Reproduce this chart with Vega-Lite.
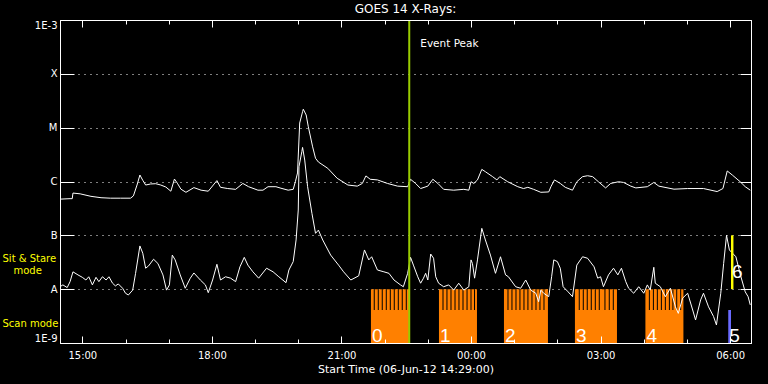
{
  "$schema": "https://vega.github.io/schema/vega-lite/v6.json",
  "width": 691,
  "height": 323,
  "autosize": {"type": "none"},
  "padding": {"left": 60, "top": 20, "right": 17, "bottom": 41},
  "background": "black",
  "config": {
    "view": {"stroke": "white", "strokeWidth": 1},
    "axis": {"domain": false, "grid": false, "labelFont": "DejaVu Sans", "labelFontSize": 10, "labelColor": "white", "tickColor": "white", "tickWidth": 1, "domainColor": "white", "domainWidth": 1}
  },
  "title": {"text": "GOES 14 X-Rays:", "color": "white", "font": "DejaVu Sans", "fontSize": 12, "fontWeight": "normal", "anchor": "middle", "frame": "group", "baseline": "alphabetic", "offset": -6},
  "resolve": {"axis": {"x": "independent", "y": "independent"}},
  "datasets": {
    "blocks": [
      {"t": "2012-06-06T21:41:00", "t2": "2012-06-06T22:34:00", "v": 1e-9, "v2": 1e-8},
      {"t": "2012-06-06T23:15:30", "t2": "2012-06-07T00:08:18", "v": 1e-9, "v2": 1e-8},
      {"t": "2012-06-07T00:45:48", "t2": "2012-06-07T01:46:54", "v": 1e-9, "v2": 1e-8},
      {"t": "2012-06-07T02:24:24", "t2": "2012-06-07T03:22:48", "v": 1e-9, "v2": 1e-8},
      {"t": "2012-06-07T04:02:18", "t2": "2012-06-07T04:55:06", "v": 1e-9, "v2": 1e-8}
    ],
    "stripes": [
      {"t": "2012-06-06T21:45:36", "v": 4.1e-9, "v2": 1e-8},
      {"t": "2012-06-06T21:51:12", "v": 4.1e-9, "v2": 1e-8},
      {"t": "2012-06-06T21:56:42", "v": 4.1e-9, "v2": 1e-8},
      {"t": "2012-06-06T22:02:18", "v": 4.1e-9, "v2": 1e-8},
      {"t": "2012-06-06T22:07:54", "v": 4.1e-9, "v2": 1e-8},
      {"t": "2012-06-06T22:13:24", "v": 4.1e-9, "v2": 1e-8},
      {"t": "2012-06-06T22:19:00", "v": 4.1e-9, "v2": 1e-8},
      {"t": "2012-06-06T22:24:30", "v": 4.1e-9, "v2": 1e-8},
      {"t": "2012-06-06T22:30:06", "v": 4.1e-9, "v2": 1e-8},
      {"t": "2012-06-06T23:21:06", "v": 4.1e-9, "v2": 1e-8},
      {"t": "2012-06-06T23:26:36", "v": 4.1e-9, "v2": 1e-8},
      {"t": "2012-06-06T23:32:12", "v": 4.1e-9, "v2": 1e-8},
      {"t": "2012-06-06T23:37:48", "v": 4.1e-9, "v2": 1e-8},
      {"t": "2012-06-06T23:43:18", "v": 4.1e-9, "v2": 1e-8},
      {"t": "2012-06-06T23:48:54", "v": 4.1e-9, "v2": 1e-8},
      {"t": "2012-06-06T23:54:30", "v": 4.1e-9, "v2": 1e-8},
      {"t": "2012-06-07T00:00:00", "v": 4.1e-9, "v2": 1e-8},
      {"t": "2012-06-07T00:04:54", "v": 4.1e-9, "v2": 1e-8},
      {"t": "2012-06-07T00:51:24", "v": 4.1e-9, "v2": 1e-8},
      {"t": "2012-06-07T00:56:54", "v": 4.1e-9, "v2": 1e-8},
      {"t": "2012-06-07T01:02:30", "v": 4.1e-9, "v2": 1e-8},
      {"t": "2012-06-07T01:08:00", "v": 4.1e-9, "v2": 1e-8},
      {"t": "2012-06-07T01:13:36", "v": 4.1e-9, "v2": 1e-8},
      {"t": "2012-06-07T01:19:06", "v": 4.1e-9, "v2": 1e-8},
      {"t": "2012-06-07T01:24:42", "v": 4.1e-9, "v2": 1e-8},
      {"t": "2012-06-07T01:30:18", "v": 4.1e-9, "v2": 1e-8},
      {"t": "2012-06-07T01:35:48", "v": 4.1e-9, "v2": 1e-8},
      {"t": "2012-06-07T01:41:24", "v": 4.1e-9, "v2": 1e-8},
      {"t": "2012-06-07T02:30:24", "v": 4.1e-9, "v2": 1e-8},
      {"t": "2012-06-07T02:36:00", "v": 4.1e-9, "v2": 1e-8},
      {"t": "2012-06-07T02:41:30", "v": 4.1e-9, "v2": 1e-8},
      {"t": "2012-06-07T02:47:06", "v": 4.1e-9, "v2": 1e-8},
      {"t": "2012-06-07T02:52:42", "v": 4.1e-9, "v2": 1e-8},
      {"t": "2012-06-07T02:58:12", "v": 4.1e-9, "v2": 1e-8},
      {"t": "2012-06-07T03:06:06", "v": 4.1e-9, "v2": 1e-8},
      {"t": "2012-06-07T03:12:06", "v": 4.1e-9, "v2": 1e-8},
      {"t": "2012-06-07T03:17:42", "v": 4.1e-9, "v2": 1e-8},
      {"t": "2012-06-07T04:07:48", "v": 4.1e-9, "v2": 1e-8},
      {"t": "2012-06-07T04:13:24", "v": 4.1e-9, "v2": 1e-8},
      {"t": "2012-06-07T04:18:54", "v": 4.1e-9, "v2": 1e-8},
      {"t": "2012-06-07T04:24:30", "v": 4.1e-9, "v2": 1e-8},
      {"t": "2012-06-07T04:30:00", "v": 4.1e-9, "v2": 1e-8},
      {"t": "2012-06-07T04:35:36", "v": 4.1e-9, "v2": 1e-8},
      {"t": "2012-06-07T04:40:30", "v": 4.1e-9, "v2": 1e-8},
      {"t": "2012-06-07T04:45:48", "v": 4.1e-9, "v2": 1e-8},
      {"t": "2012-06-07T04:51:18", "v": 4.1e-9, "v2": 1e-8}
    ],
    "blue": [
      {"t": "2012-06-07T05:57:24", "t2": "2012-06-07T06:01:12", "v": 1e-9, "v2": 4.1e-9}
    ],
    "yellow": [
      {"t": "2012-06-07T06:01:12", "t2": "2012-06-07T06:04:36", "v": 1e-8, "v2": 1e-7}
    ],
    "peak": [
      {"t": "2012-06-06T22:34:12", "v": 3.2e-4, "label": "Event Peak"}
    ],
    "digits": [
      {"t": "2012-06-06T21:41:00", "v": 1.05e-9, "label": "0"},
      {"t": "2012-06-06T23:15:30", "v": 1.05e-9, "label": "1"},
      {"t": "2012-06-07T00:45:48", "v": 1.05e-9, "label": "2"},
      {"t": "2012-06-07T02:24:24", "v": 1.05e-9, "label": "3"},
      {"t": "2012-06-07T04:02:18", "v": 1.05e-9, "label": "4"},
      {"t": "2012-06-07T05:57:24", "v": 1.05e-9, "label": "5"},
      {"t": "2012-06-07T06:01:12", "v": 1.6e-8, "label": "6"}
    ],
    "flux": [
      {"t": "2012-06-06T14:29", "ch": "long", "v": 4.7e-7},
      {"t": "2012-06-06T14:43", "ch": "long", "v": 4.8e-7},
      {"t": "2012-06-06T14:46", "ch": "long", "v": 4.8e-7},
      {"t": "2012-06-06T14:47", "ch": "long", "v": 6.1e-7},
      {"t": "2012-06-06T14:57", "ch": "long", "v": 5.9e-7},
      {"t": "2012-06-06T15:12", "ch": "long", "v": 5.3e-7},
      {"t": "2012-06-06T15:26", "ch": "long", "v": 5.0e-7},
      {"t": "2012-06-06T15:39", "ch": "long", "v": 4.9e-7},
      {"t": "2012-06-06T15:53", "ch": "long", "v": 4.9e-7},
      {"t": "2012-06-06T16:07", "ch": "long", "v": 4.9e-7},
      {"t": "2012-06-06T16:11", "ch": "long", "v": 5.4e-7},
      {"t": "2012-06-06T16:16", "ch": "long", "v": 8.6e-7},
      {"t": "2012-06-06T16:20", "ch": "long", "v": 1.32e-6},
      {"t": "2012-06-06T16:24", "ch": "long", "v": 1.05e-6},
      {"t": "2012-06-06T16:28", "ch": "long", "v": 8.6e-7},
      {"t": "2012-06-06T16:35", "ch": "long", "v": 9.0e-7},
      {"t": "2012-06-06T16:42", "ch": "long", "v": 9.1e-7},
      {"t": "2012-06-06T16:49", "ch": "long", "v": 8.6e-7},
      {"t": "2012-06-06T16:56", "ch": "long", "v": 7.9e-7},
      {"t": "2012-06-06T17:03", "ch": "long", "v": 6.6e-7},
      {"t": "2012-06-06T17:08", "ch": "long", "v": 1.11e-6},
      {"t": "2012-06-06T17:12", "ch": "long", "v": 9.3e-7},
      {"t": "2012-06-06T17:17", "ch": "long", "v": 7.2e-7},
      {"t": "2012-06-06T17:24", "ch": "long", "v": 6.3e-7},
      {"t": "2012-06-06T17:35", "ch": "long", "v": 7.7e-7},
      {"t": "2012-06-06T17:45", "ch": "long", "v": 6.9e-7},
      {"t": "2012-06-06T17:55", "ch": "long", "v": 6.6e-7},
      {"t": "2012-06-06T18:07", "ch": "long", "v": 1.04e-6},
      {"t": "2012-06-06T18:12", "ch": "long", "v": 7.8e-7},
      {"t": "2012-06-06T18:22", "ch": "long", "v": 7.4e-7},
      {"t": "2012-06-06T18:33", "ch": "long", "v": 7.15e-7},
      {"t": "2012-06-06T18:43", "ch": "long", "v": 9.2e-7},
      {"t": "2012-06-06T18:51", "ch": "long", "v": 8.0e-7},
      {"t": "2012-06-06T19:04", "ch": "long", "v": 6.9e-7},
      {"t": "2012-06-06T19:11", "ch": "long", "v": 6.9e-7},
      {"t": "2012-06-06T19:18", "ch": "long", "v": 8.0e-7},
      {"t": "2012-06-06T19:29", "ch": "long", "v": 8.0e-7},
      {"t": "2012-06-06T19:36", "ch": "long", "v": 7.5e-7},
      {"t": "2012-06-06T19:46", "ch": "long", "v": 6.9e-7},
      {"t": "2012-06-06T19:53", "ch": "long", "v": 7.15e-7},
      {"t": "2012-06-06T19:56", "ch": "long", "v": 9.9e-7},
      {"t": "2012-06-06T19:59", "ch": "long", "v": 1.44e-6},
      {"t": "2012-06-06T20:02", "ch": "long", "v": 1.22e-5},
      {"t": "2012-06-06T20:06", "ch": "long", "v": 1.98e-5},
      {"t": "2012-06-06T20:07", "ch": "long", "v": 2.2e-5},
      {"t": "2012-06-06T20:11", "ch": "long", "v": 1.72e-5},
      {"t": "2012-06-06T20:14", "ch": "long", "v": 1.04e-5},
      {"t": "2012-06-06T20:20", "ch": "long", "v": 4.4e-6},
      {"t": "2012-06-06T20:24", "ch": "long", "v": 2.7e-6},
      {"t": "2012-06-06T20:28", "ch": "long", "v": 2.3e-6},
      {"t": "2012-06-06T20:41", "ch": "long", "v": 1.76e-6},
      {"t": "2012-06-06T20:54", "ch": "long", "v": 1.15e-6},
      {"t": "2012-06-06T21:09", "ch": "long", "v": 8.6e-7},
      {"t": "2012-06-06T21:22", "ch": "long", "v": 8.2e-7},
      {"t": "2012-06-06T21:29", "ch": "long", "v": 9.2e-7},
      {"t": "2012-06-06T21:34", "ch": "long", "v": 1.27e-6},
      {"t": "2012-06-06T21:40", "ch": "long", "v": 1.1e-6},
      {"t": "2012-06-06T21:50", "ch": "long", "v": 1.07e-6},
      {"t": "2012-06-06T22:04", "ch": "long", "v": 9.2e-7},
      {"t": "2012-06-06T22:18", "ch": "long", "v": 8.2e-7},
      {"t": "2012-06-06T22:32", "ch": "long", "v": 8.0e-7},
      {"t": "2012-06-06T22:36", "ch": "long", "v": 1.1e-6},
      {"t": "2012-06-06T22:43", "ch": "long", "v": 9.2e-7},
      {"t": "2012-06-06T22:50", "ch": "long", "v": 7.4e-7},
      {"t": "2012-06-06T23:00", "ch": "long", "v": 8.2e-7},
      {"t": "2012-06-06T23:07", "ch": "long", "v": 1.1e-6},
      {"t": "2012-06-06T23:14", "ch": "long", "v": 9.2e-7},
      {"t": "2012-06-06T23:22", "ch": "long", "v": 7.15e-7},
      {"t": "2012-06-06T23:36", "ch": "long", "v": 6.9e-7},
      {"t": "2012-06-06T23:50", "ch": "long", "v": 7.15e-7},
      {"t": "2012-06-06T23:57", "ch": "long", "v": 6.9e-7},
      {"t": "2012-06-07T00:00", "ch": "long", "v": 9.9e-7},
      {"t": "2012-06-07T00:04", "ch": "long", "v": 9.2e-7},
      {"t": "2012-06-07T00:09", "ch": "long", "v": 1.07e-6},
      {"t": "2012-06-07T00:15", "ch": "long", "v": 1.68e-6},
      {"t": "2012-06-07T00:20", "ch": "long", "v": 1.52e-6},
      {"t": "2012-06-07T00:30", "ch": "long", "v": 1.23e-6},
      {"t": "2012-06-07T00:36", "ch": "long", "v": 1.07e-6},
      {"t": "2012-06-07T00:40", "ch": "long", "v": 1.23e-6},
      {"t": "2012-06-07T00:51", "ch": "long", "v": 9.9e-7},
      {"t": "2012-06-07T01:05", "ch": "long", "v": 8.0e-7},
      {"t": "2012-06-07T01:13", "ch": "long", "v": 7.4e-7},
      {"t": "2012-06-07T01:19", "ch": "long", "v": 7.8e-7},
      {"t": "2012-06-07T01:27", "ch": "long", "v": 7.15e-7},
      {"t": "2012-06-07T01:37", "ch": "long", "v": 6.3e-7},
      {"t": "2012-06-07T01:48", "ch": "long", "v": 6.4e-7},
      {"t": "2012-06-07T01:51", "ch": "long", "v": 8.0e-7},
      {"t": "2012-06-07T01:56", "ch": "long", "v": 1.07e-6},
      {"t": "2012-06-07T02:04", "ch": "long", "v": 9.2e-7},
      {"t": "2012-06-07T02:11", "ch": "long", "v": 7.8e-7},
      {"t": "2012-06-07T02:21", "ch": "long", "v": 6.9e-7},
      {"t": "2012-06-07T02:27", "ch": "long", "v": 9.9e-7},
      {"t": "2012-06-07T02:35", "ch": "long", "v": 1.23e-6},
      {"t": "2012-06-07T02:42", "ch": "long", "v": 1.28e-6},
      {"t": "2012-06-07T02:49", "ch": "long", "v": 1.23e-6},
      {"t": "2012-06-07T02:57", "ch": "long", "v": 9.9e-7},
      {"t": "2012-06-07T03:07", "ch": "long", "v": 7.6e-7},
      {"t": "2012-06-07T03:14", "ch": "long", "v": 9.2e-7},
      {"t": "2012-06-07T03:25", "ch": "long", "v": 9.9e-7},
      {"t": "2012-06-07T03:32", "ch": "long", "v": 9.6e-7},
      {"t": "2012-06-07T03:42", "ch": "long", "v": 8.2e-7},
      {"t": "2012-06-07T03:49", "ch": "long", "v": 7.6e-7},
      {"t": "2012-06-07T04:05", "ch": "long", "v": 8.0e-7},
      {"t": "2012-06-07T04:14", "ch": "long", "v": 9.6e-7},
      {"t": "2012-06-07T04:21", "ch": "long", "v": 8.2e-7},
      {"t": "2012-06-07T04:42", "ch": "long", "v": 7.2e-7},
      {"t": "2012-06-07T05:01", "ch": "long", "v": 7.4e-7},
      {"t": "2012-06-07T05:23", "ch": "long", "v": 7.4e-7},
      {"t": "2012-06-07T05:42", "ch": "long", "v": 6.5e-7},
      {"t": "2012-06-07T05:50", "ch": "long", "v": 7.4e-7},
      {"t": "2012-06-07T05:56", "ch": "long", "v": 1.57e-6},
      {"t": "2012-06-07T06:03", "ch": "long", "v": 1.32e-6},
      {"t": "2012-06-07T06:14", "ch": "long", "v": 9.9e-7},
      {"t": "2012-06-07T06:21", "ch": "long", "v": 8.0e-7},
      {"t": "2012-06-07T06:28", "ch": "long", "v": 6.9e-7},

      {"t": "2012-06-06T14:29", "ch": "short", "v": 1.11e-8},
      {"t": "2012-06-06T14:33", "ch": "short", "v": 1.2e-8},
      {"t": "2012-06-06T14:39", "ch": "short", "v": 1.07e-8},
      {"t": "2012-06-06T14:43", "ch": "short", "v": 1.38e-8},
      {"t": "2012-06-06T14:47", "ch": "short", "v": 2.1e-8},
      {"t": "2012-06-06T14:54", "ch": "short", "v": 1.84e-8},
      {"t": "2012-06-06T15:00", "ch": "short", "v": 1.66e-8},
      {"t": "2012-06-06T15:05", "ch": "short", "v": 1.48e-8},
      {"t": "2012-06-06T15:09", "ch": "short", "v": 1.7e-8},
      {"t": "2012-06-06T15:14", "ch": "short", "v": 1.2e-8},
      {"t": "2012-06-06T15:19", "ch": "short", "v": 1.66e-8},
      {"t": "2012-06-06T15:23", "ch": "short", "v": 1.38e-8},
      {"t": "2012-06-06T15:28", "ch": "short", "v": 1.7e-8},
      {"t": "2012-06-06T15:33", "ch": "short", "v": 1.48e-8},
      {"t": "2012-06-06T15:37", "ch": "short", "v": 1.7e-8},
      {"t": "2012-06-06T15:42", "ch": "short", "v": 1.29e-8},
      {"t": "2012-06-06T15:46", "ch": "short", "v": 1.15e-8},
      {"t": "2012-06-06T15:50", "ch": "short", "v": 1.25e-8},
      {"t": "2012-06-06T15:56", "ch": "short", "v": 1.04e-8},
      {"t": "2012-06-06T16:00", "ch": "short", "v": 8.4e-9},
      {"t": "2012-06-06T16:04", "ch": "short", "v": 7.8e-9},
      {"t": "2012-06-06T16:10", "ch": "short", "v": 9.6e-9},
      {"t": "2012-06-06T16:14", "ch": "short", "v": 1.97e-8},
      {"t": "2012-06-06T16:20", "ch": "short", "v": 6.35e-8},
      {"t": "2012-06-06T16:24", "ch": "short", "v": 4.65e-8},
      {"t": "2012-06-06T16:28", "ch": "short", "v": 2.45e-8},
      {"t": "2012-06-06T16:32", "ch": "short", "v": 2.7e-8},
      {"t": "2012-06-06T16:39", "ch": "short", "v": 3.6e-8},
      {"t": "2012-06-06T16:45", "ch": "short", "v": 3.0e-8},
      {"t": "2012-06-06T16:52", "ch": "short", "v": 1.84e-8},
      {"t": "2012-06-06T16:57", "ch": "short", "v": 9.6e-9},
      {"t": "2012-06-06T17:01", "ch": "short", "v": 1.2e-8},
      {"t": "2012-06-06T17:05", "ch": "short", "v": 4.3e-8},
      {"t": "2012-06-06T17:09", "ch": "short", "v": 3.5e-8},
      {"t": "2012-06-06T17:16", "ch": "short", "v": 1.84e-8},
      {"t": "2012-06-06T17:23", "ch": "short", "v": 1.04e-8},
      {"t": "2012-06-06T17:30", "ch": "short", "v": 1.6e-8},
      {"t": "2012-06-06T17:35", "ch": "short", "v": 2.0e-8},
      {"t": "2012-06-06T17:44", "ch": "short", "v": 1.48e-8},
      {"t": "2012-06-06T17:51", "ch": "short", "v": 1.2e-8},
      {"t": "2012-06-06T17:55", "ch": "short", "v": 8.6e-9},
      {"t": "2012-06-06T18:01", "ch": "short", "v": 1.48e-8},
      {"t": "2012-06-06T18:07", "ch": "short", "v": 2.9e-8},
      {"t": "2012-06-06T18:12", "ch": "short", "v": 1.48e-8},
      {"t": "2012-06-06T18:19", "ch": "short", "v": 1.7e-8},
      {"t": "2012-06-06T18:26", "ch": "short", "v": 1.6e-8},
      {"t": "2012-06-06T18:33", "ch": "short", "v": 1.38e-8},
      {"t": "2012-06-06T18:39", "ch": "short", "v": 2.6e-8},
      {"t": "2012-06-06T18:45", "ch": "short", "v": 3.9e-8},
      {"t": "2012-06-06T18:50", "ch": "short", "v": 2.8e-8},
      {"t": "2012-06-06T18:57", "ch": "short", "v": 2.1e-8},
      {"t": "2012-06-06T19:05", "ch": "short", "v": 1.6e-8},
      {"t": "2012-06-06T19:16", "ch": "short", "v": 2.45e-8},
      {"t": "2012-06-06T19:25", "ch": "short", "v": 2.1e-8},
      {"t": "2012-06-06T19:33", "ch": "short", "v": 1.7e-8},
      {"t": "2012-06-06T19:43", "ch": "short", "v": 1.32e-8},
      {"t": "2012-06-06T19:47", "ch": "short", "v": 2.27e-8},
      {"t": "2012-06-06T19:53", "ch": "short", "v": 3.25e-8},
      {"t": "2012-06-06T19:57", "ch": "short", "v": 8.2e-8},
      {"t": "2012-06-06T20:00", "ch": "short", "v": 2.95e-7},
      {"t": "2012-06-06T20:01", "ch": "short", "v": 1.88e-6},
      {"t": "2012-06-06T20:05", "ch": "short", "v": 3.6e-6},
      {"t": "2012-06-06T20:06", "ch": "short", "v": 4.3e-6},
      {"t": "2012-06-06T20:09", "ch": "short", "v": 2.5e-6},
      {"t": "2012-06-06T20:13", "ch": "short", "v": 8.0e-7},
      {"t": "2012-06-06T20:19", "ch": "short", "v": 2.56e-7},
      {"t": "2012-06-06T20:24", "ch": "short", "v": 1.09e-7},
      {"t": "2012-06-06T20:28", "ch": "short", "v": 1.25e-7},
      {"t": "2012-06-06T20:34", "ch": "short", "v": 8.2e-8},
      {"t": "2012-06-06T20:45", "ch": "short", "v": 4.3e-8},
      {"t": "2012-06-06T20:56", "ch": "short", "v": 2.8e-8},
      {"t": "2012-06-06T21:03", "ch": "short", "v": 2.1e-8},
      {"t": "2012-06-06T21:13", "ch": "short", "v": 1.48e-8},
      {"t": "2012-06-06T21:24", "ch": "short", "v": 1.77e-8},
      {"t": "2012-06-06T21:32", "ch": "short", "v": 5.35e-8},
      {"t": "2012-06-06T21:38", "ch": "short", "v": 3.5e-8},
      {"t": "2012-06-06T21:42", "ch": "short", "v": 4.0e-8},
      {"t": "2012-06-06T21:50", "ch": "short", "v": 2.27e-8},
      {"t": "2012-06-06T21:59", "ch": "short", "v": 2.1e-8},
      {"t": "2012-06-06T22:06", "ch": "short", "v": 1.97e-8},
      {"t": "2012-06-06T22:13", "ch": "short", "v": 1.48e-8},
      {"t": "2012-06-06T22:22", "ch": "short", "v": 1.2e-8},
      {"t": "2012-06-06T22:26", "ch": "short", "v": 1.11e-8},
      {"t": "2012-06-06T22:32", "ch": "short", "v": 1.97e-8},
      {"t": "2012-06-06T22:36", "ch": "short", "v": 3.9e-8},
      {"t": "2012-06-06T22:40", "ch": "short", "v": 2.8e-8},
      {"t": "2012-06-06T22:46", "ch": "short", "v": 1.7e-8},
      {"t": "2012-06-06T22:50", "ch": "short", "v": 1.29e-8},
      {"t": "2012-06-06T22:54", "ch": "short", "v": 1.6e-8},
      {"t": "2012-06-06T22:57", "ch": "short", "v": 1.97e-8},
      {"t": "2012-06-06T23:00", "ch": "short", "v": 1.48e-8},
      {"t": "2012-06-06T23:04", "ch": "short", "v": 4.5e-8},
      {"t": "2012-06-06T23:08", "ch": "short", "v": 3.75e-8},
      {"t": "2012-06-06T23:11", "ch": "short", "v": 1.7e-8},
      {"t": "2012-06-06T23:15", "ch": "short", "v": 1.29e-8},
      {"t": "2012-06-06T23:22", "ch": "short", "v": 1.11e-8},
      {"t": "2012-06-06T23:29", "ch": "short", "v": 1.2e-8},
      {"t": "2012-06-06T23:36", "ch": "short", "v": 9.6e-9},
      {"t": "2012-06-06T23:43", "ch": "short", "v": 1.29e-8},
      {"t": "2012-06-06T23:50", "ch": "short", "v": 9.6e-9},
      {"t": "2012-06-06T23:57", "ch": "short", "v": 1.11e-8},
      {"t": "2012-06-07T00:00", "ch": "short", "v": 3.5e-8},
      {"t": "2012-06-07T00:02", "ch": "short", "v": 3.0e-8},
      {"t": "2012-06-07T00:05", "ch": "short", "v": 1.6e-8},
      {"t": "2012-06-07T00:09", "ch": "short", "v": 3.5e-8},
      {"t": "2012-06-07T00:15", "ch": "short", "v": 1.35e-7},
      {"t": "2012-06-07T00:20", "ch": "short", "v": 8.2e-8},
      {"t": "2012-06-07T00:27", "ch": "short", "v": 4.3e-8},
      {"t": "2012-06-07T00:34", "ch": "short", "v": 1.97e-8},
      {"t": "2012-06-07T00:41", "ch": "short", "v": 4.0e-8},
      {"t": "2012-06-07T00:48", "ch": "short", "v": 1.84e-8},
      {"t": "2012-06-07T00:52", "ch": "short", "v": 1.7e-8},
      {"t": "2012-06-07T01:02", "ch": "short", "v": 1.11e-8},
      {"t": "2012-06-07T01:09", "ch": "short", "v": 1.04e-8},
      {"t": "2012-06-07T01:16", "ch": "short", "v": 1.48e-8},
      {"t": "2012-06-07T01:23", "ch": "short", "v": 9.6e-9},
      {"t": "2012-06-07T01:30", "ch": "short", "v": 8.4e-9},
      {"t": "2012-06-07T01:34", "ch": "short", "v": 5.85e-9},
      {"t": "2012-06-07T01:37", "ch": "short", "v": 9.6e-9},
      {"t": "2012-06-07T01:41", "ch": "short", "v": 8.4e-9},
      {"t": "2012-06-07T01:48", "ch": "short", "v": 7.25e-9},
      {"t": "2012-06-07T01:52", "ch": "short", "v": 1.7e-8},
      {"t": "2012-06-07T01:55", "ch": "short", "v": 3.5e-8},
      {"t": "2012-06-07T02:00", "ch": "short", "v": 3.25e-8},
      {"t": "2012-06-07T02:04", "ch": "short", "v": 2.45e-8},
      {"t": "2012-06-07T02:08", "ch": "short", "v": 1.11e-8},
      {"t": "2012-06-07T02:15", "ch": "short", "v": 8.9e-9},
      {"t": "2012-06-07T02:21", "ch": "short", "v": 7.25e-9},
      {"t": "2012-06-07T02:27", "ch": "short", "v": 2.8e-8},
      {"t": "2012-06-07T02:35", "ch": "short", "v": 4.0e-8},
      {"t": "2012-06-07T02:42", "ch": "short", "v": 3.75e-8},
      {"t": "2012-06-07T02:51", "ch": "short", "v": 2.6e-8},
      {"t": "2012-06-07T02:56", "ch": "short", "v": 1.6e-8},
      {"t": "2012-06-07T03:00", "ch": "short", "v": 1.7e-8},
      {"t": "2012-06-07T03:04", "ch": "short", "v": 1.11e-8},
      {"t": "2012-06-07T03:11", "ch": "short", "v": 1.84e-8},
      {"t": "2012-06-07T03:18", "ch": "short", "v": 2.45e-8},
      {"t": "2012-06-07T03:24", "ch": "short", "v": 1.84e-8},
      {"t": "2012-06-07T03:29", "ch": "short", "v": 2.45e-8},
      {"t": "2012-06-07T03:35", "ch": "short", "v": 1.38e-8},
      {"t": "2012-06-07T03:39", "ch": "short", "v": 1.04e-8},
      {"t": "2012-06-07T03:46", "ch": "short", "v": 8.4e-9},
      {"t": "2012-06-07T03:53", "ch": "short", "v": 1.11e-8},
      {"t": "2012-06-07T04:00", "ch": "short", "v": 8.4e-9},
      {"t": "2012-06-07T04:05", "ch": "short", "v": 1.2e-8},
      {"t": "2012-06-07T04:09", "ch": "short", "v": 9.6e-9},
      {"t": "2012-06-07T04:14", "ch": "short", "v": 2.55e-8},
      {"t": "2012-06-07T04:16", "ch": "short", "v": 1.29e-8},
      {"t": "2012-06-07T04:23", "ch": "short", "v": 1.11e-8},
      {"t": "2012-06-07T04:30", "ch": "short", "v": 7.25e-9},
      {"t": "2012-06-07T04:37", "ch": "short", "v": 1.04e-8},
      {"t": "2012-06-07T04:44", "ch": "short", "v": 4.7e-9},
      {"t": "2012-06-07T04:48", "ch": "short", "v": 3.55e-9},
      {"t": "2012-06-07T04:54", "ch": "short", "v": 6.8e-9},
      {"t": "2012-06-07T05:01", "ch": "short", "v": 8.4e-9},
      {"t": "2012-06-07T05:08", "ch": "short", "v": 4.1e-9},
      {"t": "2012-06-07T05:12", "ch": "short", "v": 2.68e-9},
      {"t": "2012-06-07T05:19", "ch": "short", "v": 6.3e-9},
      {"t": "2012-06-07T05:23", "ch": "short", "v": 8.4e-9},
      {"t": "2012-06-07T05:30", "ch": "short", "v": 4.7e-9},
      {"t": "2012-06-07T05:37", "ch": "short", "v": 3.1e-9},
      {"t": "2012-06-07T05:41", "ch": "short", "v": 2.16e-9},
      {"t": "2012-06-07T05:47", "ch": "short", "v": 8.4e-9},
      {"t": "2012-06-07T05:51", "ch": "short", "v": 3.0e-8},
      {"t": "2012-06-07T05:55", "ch": "short", "v": 1.0e-7},
      {"t": "2012-06-07T05:59", "ch": "short", "v": 5.35e-8},
      {"t": "2012-06-07T06:08", "ch": "short", "v": 4.0e-8},
      {"t": "2012-06-07T06:15", "ch": "short", "v": 1.7e-8},
      {"t": "2012-06-07T06:21", "ch": "short", "v": 8.9e-9},
      {"t": "2012-06-07T06:25", "ch": "short", "v": 7.25e-9},
      {"t": "2012-06-07T06:28", "ch": "short", "v": 5.1e-9}
    ]
  },
  "layer": [
    {
      "data": {"name": "blocks"},
      "mark": {"type": "rect", "color": "#ff8000"},
      "encoding": {
        "x": {"field": "t", "type": "temporal", "scale": {"nice": false, "domain": [{"year": 2012, "month": 6, "date": 6, "hours": 14, "minutes": 29}, {"year": 2012, "month": 6, "date": 7, "hours": 6, "minutes": 29}]},
          "axis": {"orient": "bottom", "values": [{"year": 2012, "month": 6, "date": 6, "hours": 15}, {"year": 2012, "month": 6, "date": 6, "hours": 18}, {"year": 2012, "month": 6, "date": 6, "hours": 21}, {"year": 2012, "month": 6, "date": 7, "hours": 0}, {"year": 2012, "month": 6, "date": 7, "hours": 3}, {"year": 2012, "month": 6, "date": 7, "hours": 6}],
            "format": "%H:%M", "tickSize": -7, "labelPadding": 14, "labelFlush": false, "labelOverlap": false, "domain": true, "title": "Start Time (06-Jun-12 14:29:00)", "titleColor": "white", "titleFont": "DejaVu Sans", "titleFontSize": 11, "titleFontWeight": "normal", "titlePadding": 3, "zindex": 1}},
        "x2": {"field": "t2"},
        "y": {"field": "v", "type": "quantitative", "scale": {"type": "log", "domain": [1e-9, 1e-3], "nice": false},
          "axis": {"orient": "left", "values": [1e-8, 1e-7, 1e-6, 1e-5, 1e-4], "grid": true, "gridColor": "white", "gridDash": [1, 5], "gridWidth": 1, "gridOpacity": 1, "ticks": false, "labels": false, "domain": false, "title": null, "zindex": 0}},
        "y2": {"field": "v2"}
      }
    },
    {
      "data": {"name": "stripes"},
      "mark": {"type": "rule", "color": "black", "strokeWidth": 1},
      "encoding": {
        "x": {"field": "t", "type": "temporal", "scale": {"nice": false, "domain": [{"year": 2012, "month": 6, "date": 6, "hours": 14, "minutes": 29}, {"year": 2012, "month": 6, "date": 7, "hours": 6, "minutes": 29}]},
          "axis": {"orient": "bottom", "values": [{"year": 2012, "month": 6, "date": 6, "hours": 15}, {"year": 2012, "month": 6, "date": 6, "hours": 16}, {"year": 2012, "month": 6, "date": 6, "hours": 17}, {"year": 2012, "month": 6, "date": 6, "hours": 18}, {"year": 2012, "month": 6, "date": 6, "hours": 19}, {"year": 2012, "month": 6, "date": 6, "hours": 20}, {"year": 2012, "month": 6, "date": 6, "hours": 21}, {"year": 2012, "month": 6, "date": 6, "hours": 22}, {"year": 2012, "month": 6, "date": 6, "hours": 23}, {"year": 2012, "month": 6, "date": 7, "hours": 0}, {"year": 2012, "month": 6, "date": 7, "hours": 1}, {"year": 2012, "month": 6, "date": 7, "hours": 2}, {"year": 2012, "month": 6, "date": 7, "hours": 3}, {"year": 2012, "month": 6, "date": 7, "hours": 4}, {"year": 2012, "month": 6, "date": 7, "hours": 5}, {"year": 2012, "month": 6, "date": 7, "hours": 6}],
            "tickSize": -4, "labels": false, "domain": false, "title": null, "zindex": 1}},
        "y": {"field": "v", "type": "quantitative", "scale": {"type": "log", "domain": [1e-9, 1e-3], "nice": false},
          "axis": {"orient": "left", "values": [1e-9, 1e-8, 1e-7, 1e-6, 1e-5, 1e-4, 1e-3], "tickSize": -14, "labelPadding": 17, "labelExpr": "['1E-9','A','B','C','M','X','1E-3'][round(log(datum.value)/LN10)+9]", "labelFlush": true, "labelOverlap": false, "domain": true, "title": null, "zindex": 1}},
        "y2": {"field": "v2"}
      }
    },
    {
      "data": {"name": "blue"},
      "mark": {"type": "rect", "color": "#6a6aff"},
      "encoding": {
        "x": {"field": "t", "type": "temporal", "scale": {"nice": false, "domain": [{"year": 2012, "month": 6, "date": 6, "hours": 14, "minutes": 29}, {"year": 2012, "month": 6, "date": 7, "hours": 6, "minutes": 29}]},
          "axis": {"orient": "top", "values": [{"year": 2012, "month": 6, "date": 6, "hours": 15}, {"year": 2012, "month": 6, "date": 6, "hours": 18}, {"year": 2012, "month": 6, "date": 6, "hours": 21}, {"year": 2012, "month": 6, "date": 7, "hours": 0}, {"year": 2012, "month": 6, "date": 7, "hours": 3}, {"year": 2012, "month": 6, "date": 7, "hours": 6}],
            "tickSize": -7, "labels": false, "domain": true, "title": null, "zindex": 1}},
        "x2": {"field": "t2"},
        "y": {"field": "v", "type": "quantitative", "scale": {"type": "log", "domain": [1e-9, 1e-3], "nice": false},
          "axis": {"orient": "right", "values": [1e-9, 1e-8, 1e-7, 1e-6, 1e-5, 1e-4, 1e-3], "tickSize": -11, "labels": false, "domain": true, "title": null, "zindex": 1}},
        "y2": {"field": "v2"}
      }
    },
    {
      "data": {"name": "flux"},
      "mark": {"type": "line", "color": "white", "strokeWidth": 1},
      "encoding": {
        "x": {"field": "t", "type": "temporal", "scale": {"nice": false, "domain": [{"year": 2012, "month": 6, "date": 6, "hours": 14, "minutes": 29}, {"year": 2012, "month": 6, "date": 7, "hours": 6, "minutes": 29}]},
          "axis": {"orient": "top", "values": [{"year": 2012, "month": 6, "date": 6, "hours": 15}, {"year": 2012, "month": 6, "date": 6, "hours": 16}, {"year": 2012, "month": 6, "date": 6, "hours": 17}, {"year": 2012, "month": 6, "date": 6, "hours": 18}, {"year": 2012, "month": 6, "date": 6, "hours": 19}, {"year": 2012, "month": 6, "date": 6, "hours": 20}, {"year": 2012, "month": 6, "date": 6, "hours": 21}, {"year": 2012, "month": 6, "date": 6, "hours": 22}, {"year": 2012, "month": 6, "date": 6, "hours": 23}, {"year": 2012, "month": 6, "date": 7, "hours": 0}, {"year": 2012, "month": 6, "date": 7, "hours": 1}, {"year": 2012, "month": 6, "date": 7, "hours": 2}, {"year": 2012, "month": 6, "date": 7, "hours": 3}, {"year": 2012, "month": 6, "date": 7, "hours": 4}, {"year": 2012, "month": 6, "date": 7, "hours": 5}, {"year": 2012, "month": 6, "date": 7, "hours": 6}],
            "tickSize": -4, "labels": false, "domain": false, "title": null, "zindex": 1}},
        "y": {"field": "v", "type": "quantitative", "scale": {"type": "log", "domain": [1e-9, 1e-3], "nice": false},
          "axis": {"orient": "left", "values": [3.68e-8, 2.2e-8, 2.33e-9], "ticks": false, "tickSize": 0, "labelExpr": "datum.value > 3e-8 ? 'Sit & Stare' : datum.value > 1e-8 ? 'mode' : 'Scan mode'", "labelColor": "#ffff00", "labelAlign": "left", "labelBaseline": "middle", "labelPadding": {"condition": {"test": "datum.value > 1e-8 && datum.value < 3e-8", "value": 47}, "value": 58}, "labelFlush": false, "labelOverlap": false, "domain": false, "title": null, "zindex": 1}},
        "detail": {"field": "ch"}
      }
    },
    {
      "data": {"name": "yellow"},
      "mark": {"type": "rect", "color": "#ffff00"},
      "encoding": {
        "x": {"field": "t", "type": "temporal", "axis": null},
        "x2": {"field": "t2"},
        "y": {"field": "v", "type": "quantitative", "axis": null},
        "y2": {"field": "v2"}
      }
    },
    {
      "data": {"name": "peak"},
      "mark": {"type": "rule", "color": "#99cc00", "strokeWidth": 2},
      "encoding": {
        "x": {"field": "t", "type": "temporal", "axis": null}
      }
    },
    {
      "data": {"name": "peak"},
      "mark": {"type": "text", "color": "white", "font": "DejaVu Sans", "fontSize": 10.5, "align": "left", "baseline": "alphabetic", "dx": 11},
      "encoding": {
        "x": {"field": "t", "type": "temporal", "axis": null},
        "y": {"field": "v", "type": "quantitative", "axis": null},
        "text": {"field": "label"}
      }
    },
    {
      "data": {"name": "digits"},
      "mark": {"type": "text", "color": "white", "font": "Liberation Sans", "fontSize": 19, "align": "left", "baseline": "alphabetic", "dx": 1},
      "encoding": {
        "x": {"field": "t", "type": "temporal", "axis": null},
        "y": {"field": "v", "type": "quantitative", "axis": null},
        "text": {"field": "label"}
      }
    }
  ]
}
